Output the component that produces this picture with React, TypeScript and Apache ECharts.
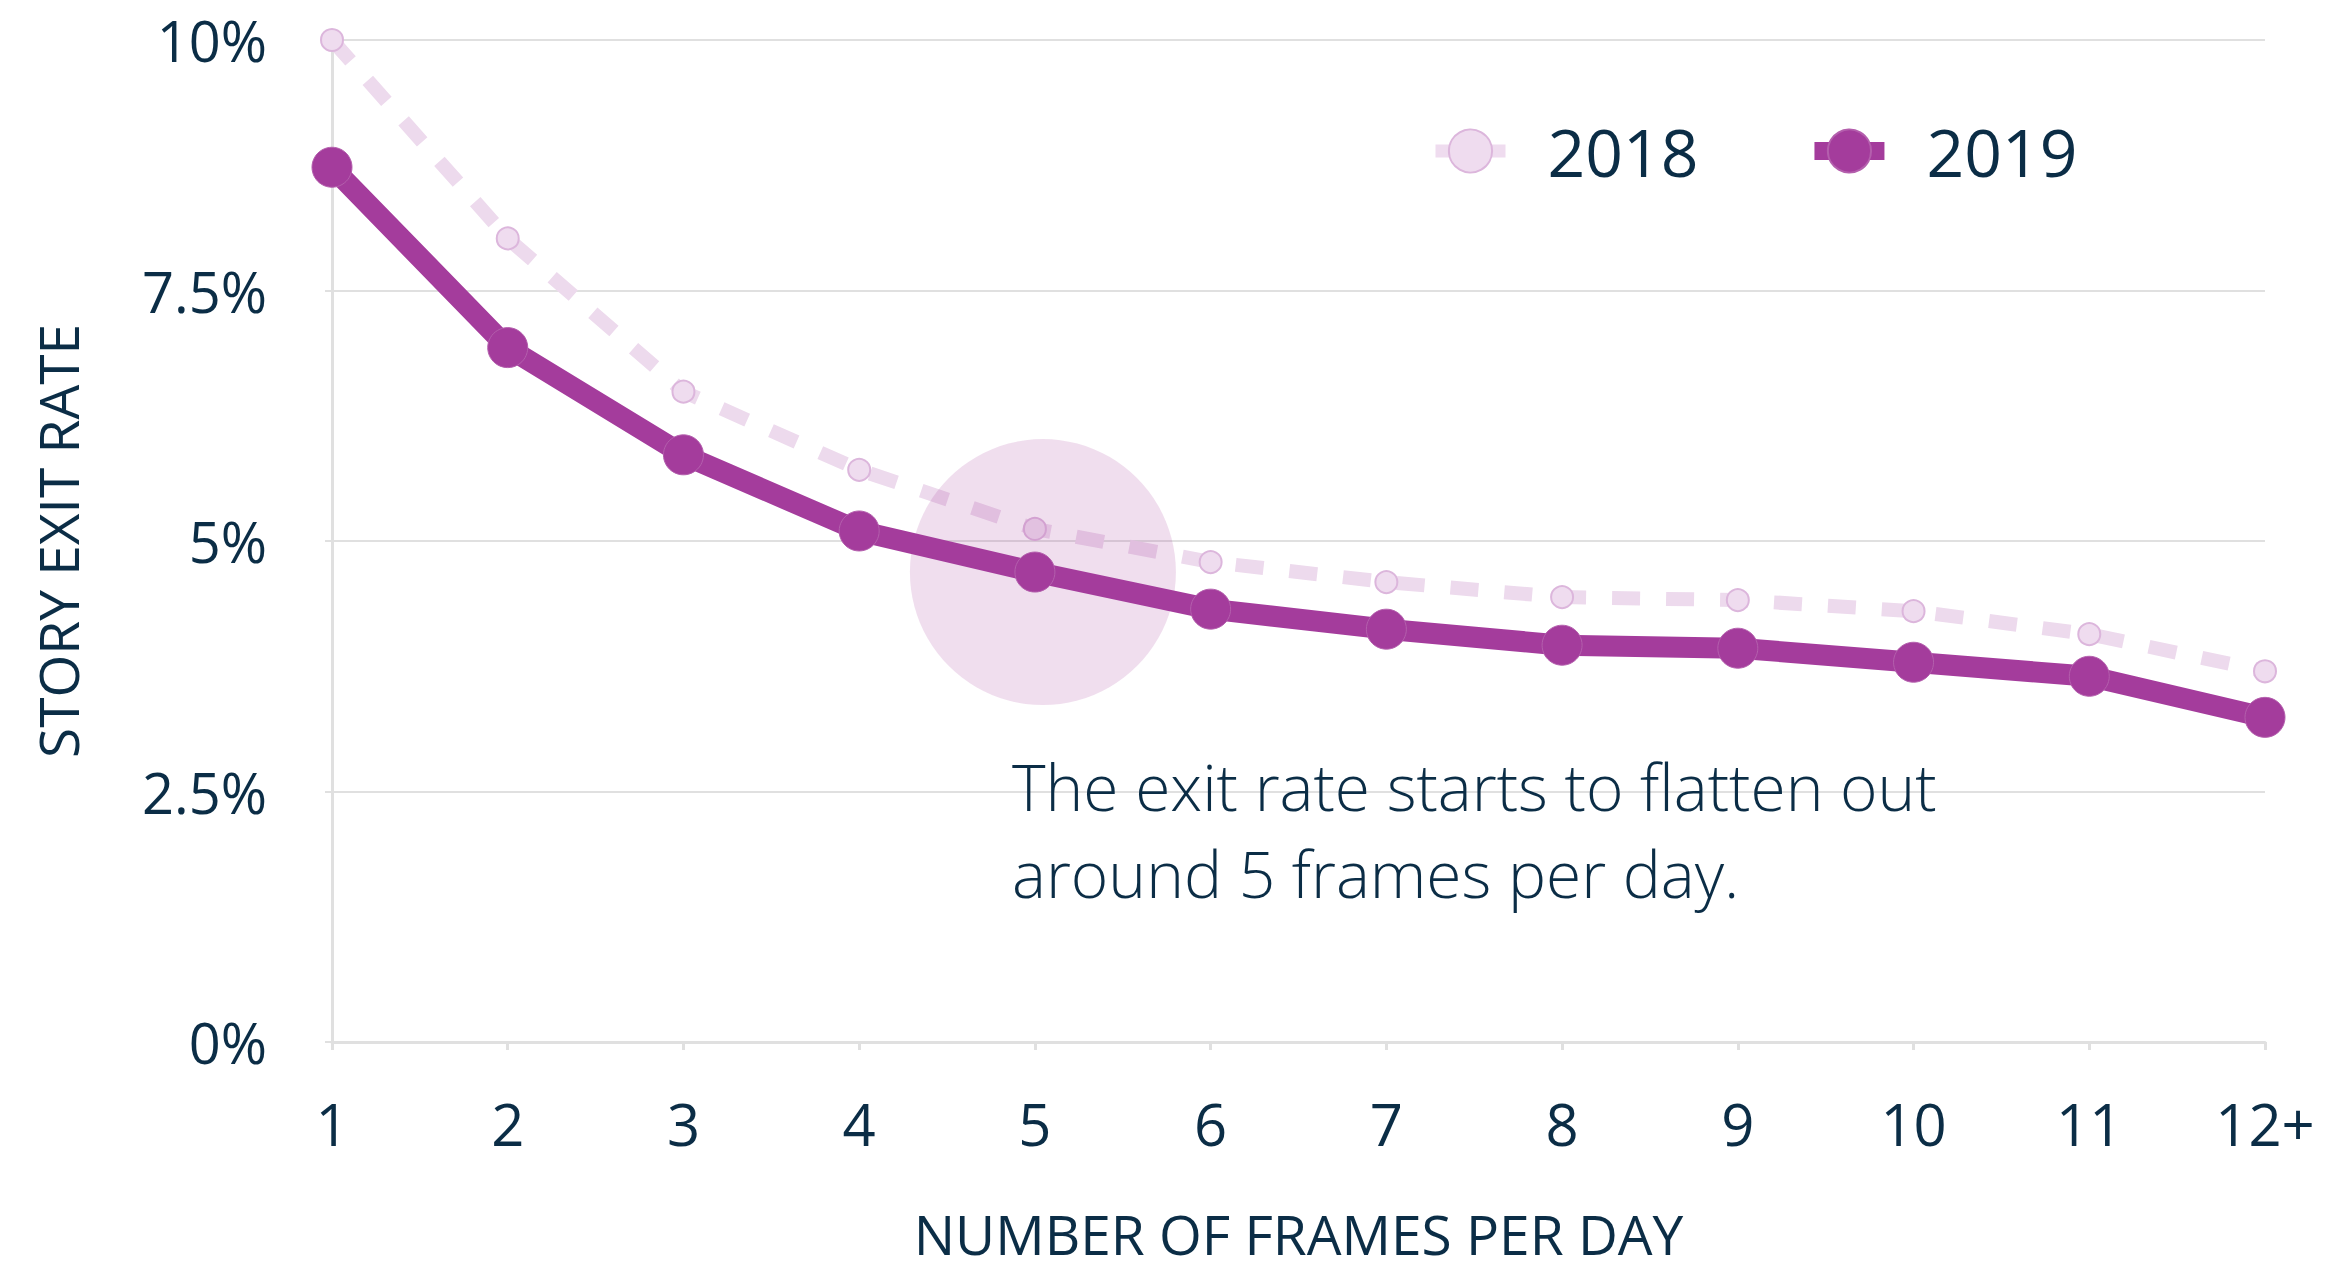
import React, { useEffect, useRef } from "react";
import * as echarts from "echarts";

const categories = ["1", "2", "3", "4", "5", "6", "7", "8", "9", "10", "11", "12+"];
const rate2018 = [10.0, 8.02, 6.49, 5.71, 5.12, 4.79, 4.59, 4.44, 4.41, 4.3, 4.07, 3.7];
const rate2019 = [8.73, 6.93, 5.86, 5.1, 4.69, 4.32, 4.12, 3.96, 3.93, 3.79, 3.65, 3.24];
const highlight = [[4, 4.69]];
const yTicks = { min: 0, max: 10, interval: 2.5 };
const annotation = "The exit rate starts to flatten out\naround 5 frames per day.";

const FONT = "Open Sans";
const TEXT = "#0b2d46";
const PURPLE = "#a43c9c";
const GRID = "#e0e0e0";

export default function App() {
  const ref = useRef<HTMLDivElement>(null);
  useEffect(() => {
    if (!ref.current) return;
    const chart = echarts.init(ref.current, undefined, { renderer: "svg" });
    chart.setOption({
      animation: false,
      backgroundColor: "#ffffff",
      textStyle: { fontFamily: FONT, color: TEXT },
      grid: { left: 332, right: 85, top: 40, bottom: 230, containLabel: false, outerBoundsMode: "none" },
      legend: {
        left: 1429,
        top: 118,
        padding: 0,
        itemWidth: 70,
        itemHeight: 54,
        itemGap: 107,
        textStyle: { fontFamily: FONT, fontSize: 66, color: TEXT, padding: [0, 0, 0, 37] },
        data: [
          { name: "2018", lineStyle: { type: "solid", width: 13, color: "#efdcef" } },
          { name: "2019", lineStyle: { type: "solid", width: 18, color: PURPLE } },
        ],
      },
      xAxis: {
        type: "category",
        data: categories,
        boundaryGap: false,
        name: "NUMBER OF FRAMES PER DAY",
        nameLocation: "middle",
        nameGap: 166,
        nameTextStyle: { fontFamily: FONT, fontSize: 55, lineHeight: 50, color: TEXT },
        axisLine: { lineStyle: { color: GRID, width: 3 } },
        axisTick: { show: true, alignWithLabel: true, length: 8, lineStyle: { color: GRID, width: 3 } },
        axisLabel: { fontFamily: FONT, fontSize: 58, color: TEXT, margin: 52 },
        splitLine: { show: false },
      },
      yAxis: {
        type: "value",
        min: yTicks.min,
        max: yTicks.max,
        interval: yTicks.interval,
        name: "STORY EXIT RATE",
        nameLocation: "middle",
        nameGap: 247,
        nameRotate: 90,
        nameTextStyle: { fontFamily: FONT, fontSize: 55, color: TEXT },
        axisLine: { show: true, lineStyle: { color: GRID, width: 3 } },
        axisTick: { show: true, length: 7, lineStyle: { color: GRID, width: 2 } },
        axisLabel: {
          fontFamily: FONT,
          fontSize: 56,
          color: TEXT,
          margin: 65,
          formatter: (v: number) => `${v}%`,
        },
        splitLine: { show: true, lineStyle: { color: GRID, width: 2 } },
      },
      series: [
        {
          name: "2018",
          type: "line",
          data: rate2018,
          symbol: "circle",
          symbolSize: 22,
          lineStyle: { color: "#eddaed", width: 14, type: [28, 26] },
          itemStyle: { color: "#efdcef", borderColor: "#dcb6dc", borderWidth: 2 },
          z: 2,
        },
        {
          name: "highlight",
          type: "scatter",
          data: highlight,
          symbol: "circle",
          symbolSize: 266,
          symbolOffset: [8, 0],
          itemStyle: { color: "rgba(164,60,156,0.21)" },
          silent: true,
          z: 3,
        },
        {
          name: "2019",
          type: "line",
          data: rate2019,
          symbol: "circle",
          symbolSize: 40,
          lineStyle: { color: PURPLE, width: 21 },
          itemStyle: { color: PURPLE, borderColor: "#b45fad", borderWidth: 1 },
          z: 4,
        },
      ],
      graphic: [
        {
          type: "text",
          x: 1012,
          y: 830,
          z: 10,
          style: {
            text: annotation,
            fontFamily: FONT,
            fontSize: 64,
            fontWeight: 300,
            lineHeight: 87,
            fill: TEXT,
            align: "left",
            verticalAlign: "middle",
          },
        },
      ],
    });
    return () => chart.dispose();
  }, []);
  return (
    <div
      ref={ref}
      style={{ position: "fixed", left: 0, top: 0, width: 2350, height: 1272 }}
    />
  );
}
